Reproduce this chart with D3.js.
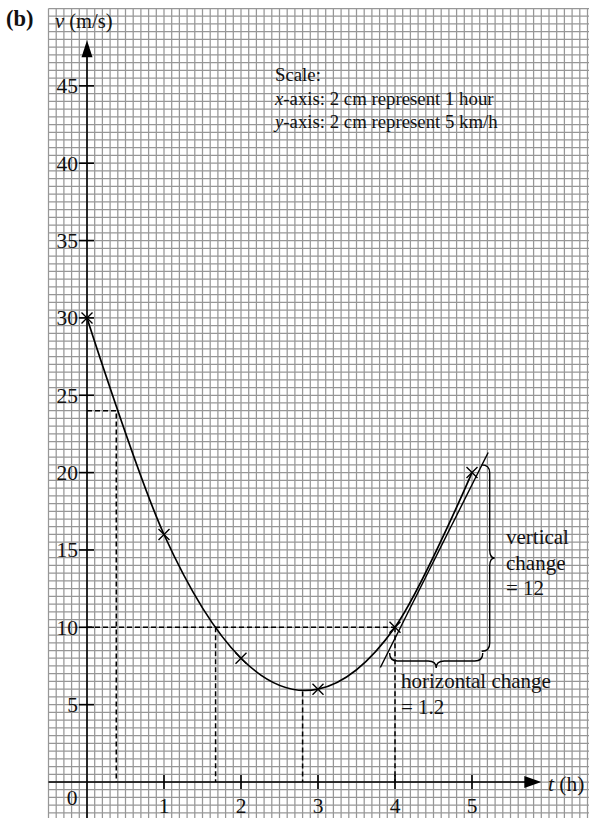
<!DOCTYPE html>
<html>
<head>
<meta charset="utf-8">
<script src="https://cdn.jsdelivr.net/npm/d3@7"></script>
<style>
  html, body { margin: 0; padding: 0; background: #fff; }
  svg { display: block; }
  text { font-family: "Liberation Serif", "Times New Roman", serif; fill: #111; }
</style>
</head>
<body>
<script>
// ---------- data ----------
const times  = [0, 1, 2, 3, 4, 5];          // t (h)
const speeds = [30, 16, 8, 6, 10, 20];      // v (m/s)
const xTicks = [1, 2, 3, 4, 5];
const yTicks = [5, 10, 15, 20, 25, 30, 35, 40, 45];
// dashed construction lines (t, v)
const dashedLines = [
  [[0, 24], [0.38, 24], [0.38, 0]],
  [[0, 10], [4, 10]],
  [[1.67, 10], [1.67, 0]],
  [[2.8, 5.85], [2.8, 0]],
  [[4, 10], [4, 0]]
];
// tangent at t = 4
const tangent = [[3.81, 7.4], [5.21, 21.3]];
// braces: vertical at t, from v0 to v1 ; horizontal at v, from t0 to t1
const vBrace = { t: 5.23, v0: 20.5, v1: 8.45 };
const hBrace = { v: 7.82, t0: 3.93, t1: 5.14 };
const scaleLines = ["Scale:", "x-axis: 2 cm represent 1 hour", "y-axis: 2 cm represent 5 km/h"];

// ---------- setup ----------
const W = 589, H = 821;
const svg = d3.select("body").append("svg").attr("width", W).attr("height", H);

const x = d3.scaleLinear().domain([0, 1]).range([87, 164]);
const y = d3.scaleLinear().domain([0, 50]).range([782, 8.5]);

// ---------- grid ----------
const gx0 = -0.5, gx1 = x.invert(W + 1), gy0 = y.invert(818), gy1 = 50;
const grid = svg.append("g").attr("stroke", "#979797").attr("stroke-width", 1.25);
const vLines = d3.range(-5, Math.floor(gx1 * 10) + 1).map(i => i / 10);
const hLines = d3.range(Math.ceil(gy0 * 2), 101).map(i => i / 2);
grid.selectAll("line.v").data(vLines).join("line").attr("class", "v")
  .attr("x1", d => x(d)).attr("x2", d => x(d)).attr("y1", y(gy1)).attr("y2", y(gy0));
grid.selectAll("line.h").data(hLines).join("line").attr("class", "h")
  .attr("y1", d => y(d)).attr("y2", d => y(d)).attr("x1", x(gx0)).attr("x2", W);

// ---------- axes ----------
const axG = svg.append("g").attr("stroke", "#000").attr("stroke-width", 1.6);
axG.append("line").attr("x1", x(gx0)).attr("x2", x(5.75)).attr("y1", y(0)).attr("y2", y(0));
axG.append("line").attr("x1", x(0)).attr("x2", x(0)).attr("y1", y(gy0)).attr("y2", y(47));
// arrow heads
svg.append("path").attr("fill", "#000")
  .attr("d", `M${x(5.9)},${y(0)} L${x(5.9) - 17},${y(0) - 6} L${x(5.9) - 17},${y(0) + 6} Z`);
svg.append("path").attr("fill", "#000")
  .attr("d", `M${x(0)},${y(47.95)} L${x(0) - 5.5},${y(47.95) + 17} L${x(0) + 5.5},${y(47.95) + 17} Z`);

// ticks
axG.selectAll("line.yt").data(yTicks).join("line").attr("class", "yt")
  .attr("x1", x(0) - 8).attr("x2", x(0) + 7).attr("y1", d => y(d)).attr("y2", d => y(d));
axG.selectAll("line.xt").data(xTicks).join("line").attr("class", "xt")
  .attr("x1", d => x(d)).attr("x2", d => x(d)).attr("y1", y(0) - 7).attr("y2", y(0) + 7);

svg.selectAll("text.yl").data(yTicks).join("text").attr("class", "yl")
  .attr("x", x(0) - 9).attr("y", d => y(d)).attr("dy", "0.35em")
  .attr("text-anchor", "end").attr("font-size", 21.5).text(d => d);
svg.selectAll("text.xl").data(xTicks).join("text").attr("class", "xl")
  .attr("x", d => x(d)).attr("y", y(0) + 31)
  .attr("text-anchor", "middle").attr("font-size", 21.5).text(d => d);
svg.append("text").attr("x", x(0) - 15).attr("y", y(0) + 23)
  .attr("text-anchor", "middle").attr("font-size", 21.5).text("0");

// axis titles
const vt = svg.append("text").attr("x", 55).attr("y", 28).attr("font-size", 20.5);
vt.append("tspan").attr("font-style", "italic").text("v");
vt.append("tspan").text(" (m/s)");
const tt = svg.append("text").attr("x", 548).attr("y", 791).attr("font-size", 21.5);
tt.append("tspan").attr("font-style", "italic").text("t");
tt.append("tspan").text(" (h)");
svg.append("text").attr("x", 6).attr("y", 26).attr("font-size", 22.5)
  .attr("font-weight", "bold").text("(b)");

// scale note
const sc = svg.append("text").attr("x", 275).attr("y", 81).attr("font-size", 18.8);
scaleLines.forEach((s, i) => {
  const ts = sc.append("tspan").attr("x", 275).attr("dy", i === 0 ? 0 : 23.5);
  if (i === 0) ts.text(s);
  else {
    ts.append("tspan").attr("font-style", "italic").text(s[0]);
    ts.append("tspan").text(s.slice(1));
  }
});

// ---------- dashed lines ----------
const lineGen = d3.line().x(d => x(d[0])).y(d => y(d[1]));
svg.append("g").selectAll("path").data(dashedLines).join("path")
  .attr("d", lineGen).attr("fill", "none").attr("stroke", "#000")
  .attr("stroke-width", 1.5).attr("stroke-dasharray", "5,3");

// ---------- curve ----------
const pts = times.map((t, i) => [t, speeds[i]]);
svg.append("path").datum(pts)
  .attr("d", d3.line().x(d => x(d[0])).y(d => y(d[1])).curve(d3.curveCardinal.tension(0)))
  .attr("fill", "none").attr("stroke", "#000").attr("stroke-width", 1.7);

// tangent
svg.append("path").datum(tangent).attr("d", lineGen)
  .attr("fill", "none").attr("stroke", "#000").attr("stroke-width", 1.4);

// crosses
const cs = 5.5;
svg.append("g").selectAll("path").data(pts).join("path")
  .attr("d", d => {
    const px = x(d[0]), py = y(d[1]);
    return `M${px - cs},${py - cs}L${px + cs},${py + cs}M${px - cs},${py + cs}L${px + cs},${py - cs}`;
  })
  .attr("stroke", "#000").attr("stroke-width", 1.4).attr("fill", "none");

// ---------- braces ----------
function vBracePath(px, pTop, pBot, r, c) {
  const m = (pTop + pBot) / 2;
  return `M${px - r},${pTop} Q${px},${pTop} ${px},${pTop + r}` +
         ` L${px},${m - r} Q${px},${m} ${px + c},${m}` +
         ` Q${px},${m} ${px},${m + r} L${px},${pBot - r} Q${px},${pBot} ${px - r},${pBot}`;
}
function hBracePath(py, pL, pR, r, c) {
  const m = (pL + pR) / 2;
  return `M${pL},${py - r} Q${pL},${py} ${pL + r},${py}` +
         ` L${m - r},${py} Q${m},${py} ${m},${py + c}` +
         ` Q${m},${py} ${m + r},${py} L${pR - r},${py} Q${pR},${py} ${pR},${py - r}`;
}
svg.append("path").attr("d", vBracePath(x(vBrace.t), y(vBrace.v0), y(vBrace.v1), 8, 5))
  .attr("fill", "none").attr("stroke", "#000").attr("stroke-width", 1.4);
svg.append("path").attr("d", hBracePath(y(hBrace.v), x(hBrace.t0), x(hBrace.t1), 8, 7))
  .attr("fill", "none").attr("stroke", "#000").attr("stroke-width", 1.4);

// annotations
const va = svg.append("text").attr("x", 506).attr("y", 544).attr("font-size", 21);
["vertical", "change", "= 12"].forEach((s, i) =>
  va.append("tspan").attr("x", 506).attr("dy", i === 0 ? 0 : 25.5).text(s));
const ha = svg.append("text").attr("x", 401).attr("y", 688).attr("font-size", 21);
["horizontal change", "= 1.2"].forEach((s, i) =>
  ha.append("tspan").attr("x", 401).attr("dy", i === 0 ? 0 : 25.5).text(s));
</script>
</body>
</html>
